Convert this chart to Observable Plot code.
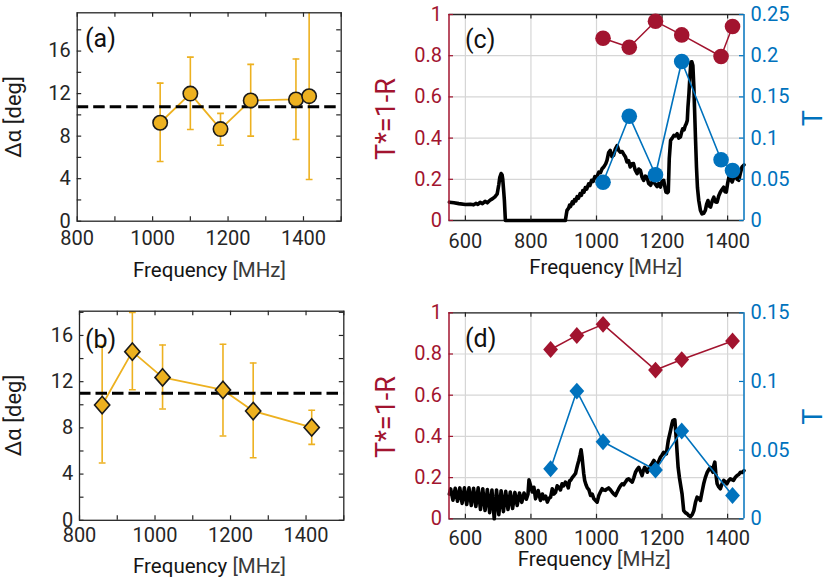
<!DOCTYPE html>
<html><head><meta charset="utf-8">
<script src="https://cdn.jsdelivr.net/npm/d3@7"></script>
<script src="https://cdn.jsdelivr.net/npm/@observablehq/plot@0.6"></script>
<style>
body{margin:0;background:#fff;}
#wrap{position:relative;width:830px;height:585px;overflow:hidden;background:#fff;font-family:Roboto,sans-serif;}
#wrap svg{position:absolute;left:0;top:0;}
</style></head><body><div id="wrap"></div>
<script>
// ---------- data ----------
const aFreq = [1020, 1100, 1180, 1260, 1380, 1415];
const aVal  = [9.26, 12.0, 8.66, 11.36, 11.45, 11.76];
const aLo   = [5.62, 8.63, 7.15, 8.0, 7.69, 3.92];
const aHi   = [12.99, 15.43, 10.14, 14.75, 15.25, 20.5];
const aMean = 10.77;

const bFreq = [860, 940, 1020, 1180, 1260, 1415];
const bVal  = [9.98, 14.6, 12.37, 11.28, 9.46, 8.04];
const bLo   = [4.96, 11.3, 9.64, 7.30, 5.42, 6.57];
const bHi   = [15.12, 18.0, 15.18, 15.24, 13.62, 9.52];
const bMean = 10.99;

const cFreq = [1020, 1100, 1180, 1260, 1380, 1415];
const cR    = [0.885, 0.841, 0.967, 0.901, 0.796, 0.942];
const cT    = [0.0465, 0.1266, 0.0555, 0.193, 0.0737, 0.0607];

const dFreq = [860, 940, 1020, 1180, 1260, 1415];
const dR    = [0.822, 0.890, 0.944, 0.722, 0.773, 0.863];
const dT    = [0.0364, 0.093, 0.0561, 0.0355, 0.0639, 0.017];

// black spectrum, panel (c)
const cCurveF = [551,565,580,600,615,625,632,638,645,652,660,667,675,682,690,697,702,705,709,712,714,717,719,722,905,908,910,915,918,921,926,929,933,937,941,945,950,954,958,962,966,970,976,980,985,990,995,1000,1007,1012,1017,1022,1028,1032,1037,1042,1047,1052,1057,1063,1068,1073,1078,1083,1088,1093,1098,1103,1108,1113,1118,1124,1129,1134,1139,1144,1149,1154,1159,1165,1170,1175,1180,1185,1190,1195,1200,1205,1209,1212,1216,1219,1222,1226,1231,1236,1241,1246,1251,1256,1260,1263,1267,1271,1274,1277,1279,1282,1285,1288,1291,1294,1297,1299,1302,1305,1308,1312,1317,1322,1327,1332,1336,1340,1344,1348,1353,1358,1363,1368,1373,1378,1383,1388,1392,1396,1400,1404,1409,1414,1419,1424,1429,1434,1439,1444,1450];
const cCurveV = [.089,.086,.082,.078,.079,.076,.083,.078,.088,.082,.093,.086,.098,.105,.115,.129,.175,.21,.228,.222,.20,.14,.097,0,0,.03,.049,.06,.075,.068,.09,.082,.102,.095,.116,.108,.13,.122,.145,.138,.16,.152,.178,.17,.195,.19,.213,.208,.235,.232,.251,.26,.275,.292,.33,.34,.31,.316,.345,.364,.34,.332,.335,.322,.31,.284,.29,.26,.275,.276,.245,.227,.25,.243,.21,.195,.215,.211,.18,.171,.19,.187,.175,.165,.18,.162,.19,.195,.16,.138,.135,.14,.3,.389,.40,.413,.41,.421,.40,.405,.43,.445,.44,.461,.47,.486,.55,.615,.70,.769,.77,.753,.65,.55,.40,.26,.16,.097,.05,.032,.035,.049,.08,.097,.07,.065,.095,.113,.09,.089,.12,.138,.15,.162,.14,.138,.18,.211,.20,.187,.21,.218,.2,.195,.23,.26,.27];

// black spectrum, panel (d)
const dCurveF = [551,555,562,569,576,583,590,597,604,611,618,625,632,639,646,653,660,667,674,681,688,695,702,709,716,723,730,737,744,751,758,765,772,779,786,791,794,799,804,809,814,822,829,835,839,845,850,855,860,865,870,875,880,885,890,895,900,905,910,914,918,921,926,931,936,938,942,946,950,953,956,958,961,964,968,972,977,982,987,992,997,1002,1007,1012,1017,1022,1027,1032,1037,1043,1048,1053,1058,1063,1068,1073,1078,1083,1088,1093,1098,1104,1109,1114,1119,1124,1129,1134,1139,1143,1147,1151,1155,1160,1165,1170,1175,1180,1185,1190,1195,1200,1205,1209,1213,1219,1226,1230,1233,1236,1239,1243,1246,1249,1253,1256,1261,1266,1271,1277,1282,1287,1292,1297,1302,1307,1312,1317,1322,1327,1332,1338,1343,1348,1352,1355,1358,1361,1364,1368,1373,1378,1383,1388,1393,1398,1403,1408,1413,1418,1423,1429,1434,1439,1445,1450];
const dCurveV = [.12,.145,.09,.148,.085,.15,.075,.15,.07,.15,.065,.148,.06,.15,.045,.146,.04,.142,.03,.14,0,.14,.02,.136,.035,.133,.045,.13,.05,.128,.065,.125,.08,.125,.095,.12,.189,.16,.13,.153,.097,.137,.089,.12,.097,.11,.081,.10,.105,.146,.12,.129,.16,.153,.14,.17,.16,.178,.17,.15,.185,.186,.2,.21,.22,.234,.26,.283,.31,.335,.30,.267,.22,.186,.165,.15,.14,.113,.12,.097,.089,.081,.113,.13,.146,.14,.138,.145,.15,.14,.129,.12,.113,.13,.146,.16,.17,.165,.178,.19,.194,.185,.178,.2,.226,.24,.25,.23,.21,.235,.25,.24,.226,.245,.258,.27,.283,.27,.258,.28,.299,.31,.323,.32,.315,.38,.429,.46,.477,.48,.48,.396,.32,.25,.2,.17,.121,.04,.03,.024,.015,.011,.02,.04,.08,.105,.1,.089,.13,.17,.2,.226,.24,.25,.235,.226,.26,.275,.22,.17,.155,.146,.17,.186,.18,.17,.185,.194,.19,.186,.2,.21,.215,.226,.225,.234];

// ticks / tick labels
const abXLabels = [800, 1000, 1200, 1400];
const abXTicks  = [800, 900, 1000, 1100, 1200, 1300, 1400, 1500];
const abYLabels = [0, 4, 8, 12, 16];
const abYTicks  = [0, 2, 4, 6, 8, 10, 12, 14, 16, 18];
const cdXLabels = [600, 800, 1000, 1200, 1400];
const cdYLabels = [0, 0.2, 0.4, 0.6, 0.8, 1];
const cTLabels  = [0, 0.05, 0.1, 0.15, 0.2, 0.25];
const dTLabels  = [0, 0.05, 0.1, 0.15];

// ---------- styles ----------
const W = 830, H = 585;
const ORANGE = "#EDB120", RED = "#A2142F", BLUE = "#0072BD", DARK = "#262626", GRID = "#d6d6d6";
const FONT = "Roboto";
const capSym = {draw(ctx, size){ const r = Math.sqrt(size / Math.PI); ctx.moveTo(-r, 0); ctx.lineTo(r, 0); }};
const diaSym = {draw(ctx, size){ const r = Math.sqrt(size / Math.PI), h = r * 1.14;
  ctx.moveTo(0, -h); ctx.lineTo(r, 0); ctx.lineTo(0, h); ctx.lineTo(-r, 0); ctx.closePath(); }};
const fmt = d => String(d);

function base(f){
  return {width: W, height: H, marginLeft: f.l, marginRight: W - f.r, marginTop: f.t, marginBottom: H - f.b,
    style: {background: "transparent", overflow: "visible", fontFamily: FONT}};
}

function panelAB(f, freq, val, lo, hi, mean, ymax, symbol, r, xPad, yPad){
  const fw = f.r - f.l, fh = f.b - f.t;
  const rows = freq.map((x, i) => ({x, v: val[i], lo: lo[i], hi: hi[i]}));
  return Plot.plot({...base(f),
    x: {domain: [800, 1500]}, y: {domain: [0, ymax]},
    marks: [
      Plot.ruleX(rows, {x: "x", y1: "lo", y2: "hi", stroke: ORANGE, strokeWidth: 1.6, clip: true}),
      Plot.dot(rows, {x: "x", y: "lo", symbol: capSym, r: 3.4, stroke: ORANGE, fill: "none", strokeWidth: 1.6, clip: true}),
      Plot.dot(rows, {x: "x", y: "hi", symbol: capSym, r: 3.4, stroke: ORANGE, fill: "none", strokeWidth: 1.6, clip: true}),
      Plot.line(rows, {x: "x", y: "v", stroke: ORANGE, strokeWidth: 1.8}),
      Plot.ruleY([mean], {stroke: "#000", strokeWidth: 3, strokeDasharray: "11.5,5"}),
      Plot.dot(rows, {x: "x", y: "v", symbol, r, fill: ORANGE, stroke: "#1a1a1a", strokeWidth: 1.6}),
      Plot.frame({stroke: DARK, strokeWidth: 1.3}),
      Plot.tickY(abYTicks, {insetRight: fw - 4.5, stroke: DARK, strokeWidth: 1.2}),
      Plot.tickY(abYTicks, {insetLeft: fw - 4.5, stroke: DARK, strokeWidth: 1.2}),
      Plot.tickX(abXTicks, {insetBottom: fh - 4.5, stroke: DARK, strokeWidth: 1.2}),
      Plot.tickX(abXTicks, {insetTop: fh - 4.5, stroke: DARK, strokeWidth: 1.2}),
      Plot.axisX(abXLabels, {tickSize: 0, tickPadding: xPad, fontSize: 20, color: DARK, label: null, tickFormat: fmt}),
      Plot.axisY(abYLabels, {anchor: "left", tickSize: 0, tickPadding: yPad, fontSize: 20, color: DARK, label: null, tickFormat: fmt})
    ]});
}

function panelCDleft(f, curveF, curveV, freq, R, symbol, r, xPad){
  const fw = f.r - f.l, fh = f.b - f.t;
  const curve = curveF.map((x, i) => ({x, y: curveV[i]}));
  const pts = freq.map((x, i) => ({x, y: R[i]}));
  return Plot.plot({...base(f),
    x: {domain: [550, 1450]}, y: {domain: [0, 1]},
    marks: [
      Plot.ruleX(cdXLabels, {stroke: GRID, strokeWidth: 1.2}),
      Plot.ruleY(cdYLabels, {stroke: GRID, strokeWidth: 1.2}),
      Plot.ruleY([0, 1], {stroke: DARK, strokeWidth: 1.3}),
      Plot.line(curve, {x: "x", y: "y", stroke: "#000", strokeWidth: 3.6, strokeLinejoin: "round"}),
      Plot.ruleX([550], {stroke: RED, strokeWidth: 1.5}),
      Plot.tickX(cdXLabels, {insetBottom: fh - 4.5, stroke: DARK, strokeWidth: 1.2}),
      Plot.tickX(cdXLabels, {insetTop: fh - 4.5, stroke: DARK, strokeWidth: 1.2}),
      Plot.tickY(cdYLabels, {insetRight: fw - 4.5, stroke: RED, strokeWidth: 1.2}),
      Plot.line(pts, {x: "x", y: "y", stroke: RED, strokeWidth: 1.5}),
      Plot.dot(pts, {x: "x", y: "y", symbol, r, fill: RED, stroke: "none"}),
      Plot.axisX(cdXLabels, {tickSize: 0, tickPadding: xPad, fontSize: 20, color: DARK, label: null, tickFormat: fmt}),
      Plot.axisY(cdYLabels, {anchor: "left", tickSize: 0, tickPadding: 7, fontSize: 20, color: RED, label: null, tickFormat: fmt})
    ]});
}

function panelCDright(f, freq, T, tmax, tLabels, symbol, r){
  const fw = f.r - f.l;
  const pts = freq.map((x, i) => ({x, y: T[i]}));
  return Plot.plot({...base(f),
    x: {domain: [550, 1450], axis: null}, y: {domain: [0, tmax]},
    marks: [
      Plot.ruleX([1450], {stroke: BLUE, strokeWidth: 1.5}),
      Plot.tickY(tLabels, {insetLeft: fw - 4.5, stroke: BLUE, strokeWidth: 1.2}),
      Plot.line(pts, {x: "x", y: "y", stroke: BLUE, strokeWidth: 1.6}),
      Plot.dot(pts, {x: "x", y: "y", symbol, r, fill: BLUE, stroke: "none"}),
      Plot.axisY(tLabels, {anchor: "right", tickSize: 0, tickPadding: 6.5, fontSize: 20, color: BLUE, label: null, tickFormat: fmt})
    ]});
}

const fA = {l: 76.7, r: 340.7, t: 12.3, b: 220.7};
const fB = {l: 79, r: 343.3, t: 310.7, b: 519.8};
const fC = {l: 448.5, r: 743.5, t: 14, b: 220};
const fD = {l: 448.5, r: 743.5, t: 312.3, b: 518.3};

const wrap = document.getElementById("wrap");
wrap.append(
  panelAB(fA, aFreq, aVal, aLo, aHi, aMean, 19.6, "circle", 7.2, 9.3, 6.5),
  panelAB(fB, bFreq, bVal, bLo, bHi, bMean, 18.1, diaSym, 7.6, 7, 6.3),
  panelCDleft(fC, cCurveF, cCurveV, cFreq, cR, "circle", 7.8, 13),
  panelCDright(fC, cFreq, cT, 0.25, cTLabels, "circle", 7.8),
  panelCDleft(fD, dCurveF, dCurveV, dFreq, dR, diaSym, 7.4, 11.7),
  panelCDright(fD, dFreq, dT, 0.15, dTLabels, diaSym, 7.4)
);

// ---------- titles / labels ----------
const ns = "http://www.w3.org/2000/svg";
const lab = document.createElementNS(ns, "svg");
lab.setAttribute("width", W); lab.setAttribute("height", H);
lab.setAttribute("font-family", FONT);
function freqLabel(cx, y){
  return `<text x="${cx}" y="${y}" text-anchor="middle" font-size="20.5"><tspan fill="#141414">Frequency </tspan><tspan fill="#3a3a3a">[MHz]</tspan></text>`;
}
lab.innerHTML =
  `<text x="85" y="47" font-size="25" fill="#111">(a)</text>` +
  `<text x="85" y="348" font-size="25" fill="#111">(b)</text>` +
  `<text x="465" y="47.5" font-size="25" fill="#111">(c)</text>` +
  `<text x="465" y="346.5" font-size="25" fill="#111">(d)</text>` +
  freqLabel(209.5, 277.3) + freqLabel(209.5, 573.3) + freqLabel(605.8, 274) + freqLabel(594.2, 565.7) +
  `<text transform="translate(21,117) rotate(-90)" text-anchor="middle" font-size="22" fill="#1a1a1a">Δα [deg]</text>` +
  `<text transform="translate(21,415.5) rotate(-90)" text-anchor="middle" font-size="22" fill="#1a1a1a">Δα [deg]</text>` +
  `<text transform="translate(395,119) rotate(-90)" text-anchor="middle" font-size="27" fill="${RED}">T*=1-R</text>` +
  `<text transform="translate(395,417) rotate(-90)" text-anchor="middle" font-size="27" fill="${RED}">T*=1-R</text>` +
  `<text transform="translate(822,118.3) rotate(-90)" text-anchor="middle" font-size="27" fill="${BLUE}">T</text>` +
  `<text transform="translate(822,416.7) rotate(-90)" text-anchor="middle" font-size="27" fill="${BLUE}">T</text>`;
wrap.append(lab);
</script></body></html>
